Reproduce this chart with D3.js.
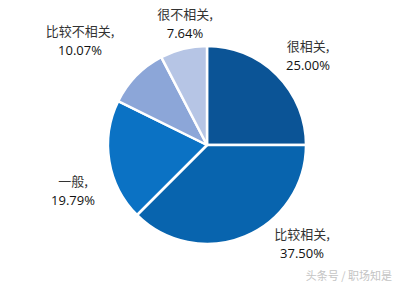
<!DOCTYPE html>
<html>
<head>
<meta charset="utf-8">
<script src="https://cdn.jsdelivr.net/npm/d3@7"></script>
<style>
  body { margin: 0; background: #fff; }
  .lbl { font-family: "Noto Sans CJK SC", sans-serif; font-size: 13px; fill: #333; }
  .num { font-family: "Open Sans", "Noto Sans", sans-serif; font-size: 13px; fill: #111; }
</style>
</head>
<body>
<div id="chart"></div>
<script>
// data
var categories = ["很相关", "比较相关", "一般", "比较不相关", "很不相关"];
var values     = [25.00, 37.50, 19.79, 10.07, 7.64];
var colors     = ["#0b5496", "#0864ae", "#0b72c4", "#8ca6d8", "#b6c5e5"];
// label anchor points (centre of text block)
var labelPos   = [[308, 51], [302, 239], [73, 186], [80, 36], [185, 19]];

var width = 398, height = 285;
var cx = 207, cy = 145, radius = 99;

var svg = d3.select("#chart").append("svg")
    .attr("width", width)
    .attr("height", height);

var pie = d3.pie().sort(null).value(function(d) { return d; });
var arc = d3.arc().innerRadius(0).outerRadius(radius);

var g = svg.append("g").attr("transform", "translate(" + cx + "," + cy + ")");

g.selectAll("path")
    .data(pie(values))
    .enter().append("path")
    .attr("d", arc)
    .attr("fill", function(d, i) { return colors[i]; })
    .attr("stroke", "#fff")
    .attr("stroke-width", 2.5)
    .attr("stroke-linejoin", "round");

// labels
var lab = svg.selectAll("g.label")
    .data(categories)
    .enter().append("g")
    .attr("class", "label")
    .attr("transform", function(d, i) { return "translate(" + labelPos[i][0] + "," + labelPos[i][1] + ")"; });

lab.append("text")
    .attr("class", "lbl")
    .attr("text-anchor", "middle")
    .attr("y", 0)
    .text(function(d) { return d + ","; });

lab.append("text")
    .attr("class", "num")
    .attr("text-anchor", "middle")
    .attr("y", 19)
    .text(function(d, i) { return values[i].toFixed(2) + "%"; });

// watermark
svg.append("text")
    .attr("x", 392)
    .attr("y", 280)
    .attr("text-anchor", "end")
    .style("font-family", "Noto Sans CJK SC, sans-serif")
    .style("font-size", "11px")
    .style("fill", "#c4c4c4")
    .text("头条号 / 职场知是");
</script>
</body>
</html>
